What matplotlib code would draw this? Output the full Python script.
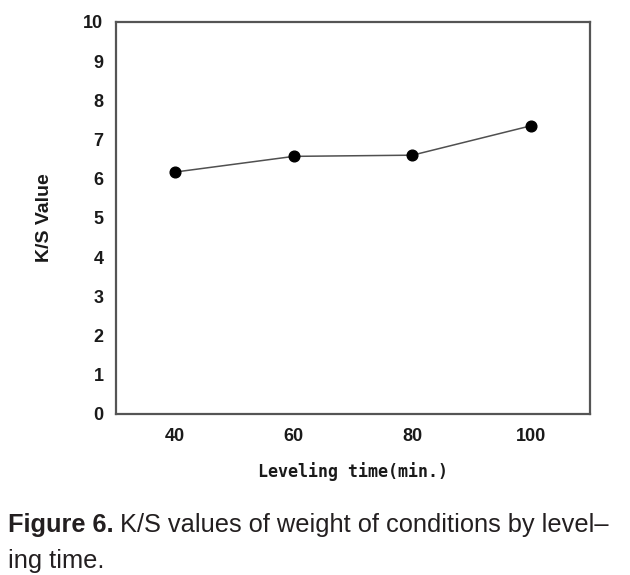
import matplotlib
matplotlib.use("Agg")
import matplotlib.pyplot as plt

# data
times = [40, 60, 80, 100]
ks_values = [6.17, 6.57, 6.60, 7.35]
x_ticks = [40, 60, 80, 100]
y_ticks = list(range(0, 11))

fig = plt.figure(figsize=(6.3, 5.75), dpi=100)
ax = fig.add_axes([0.184, 0.280, 0.753, 0.682])

ax.plot(times, ks_values, color="#505050", linewidth=1.1,
        marker="o", markersize=7.7, markerfacecolor="black", markeredgecolor="black")

ax.set_xlim(30, 110)
ax.set_ylim(0, 10)
ax.set_xticks(x_ticks)
ax.set_yticks(y_ticks)
ax.tick_params(axis="both", length=0)
ax.tick_params(axis="x", pad=10)
ax.tick_params(axis="y", pad=9)
for lab in ax.get_xticklabels() + ax.get_yticklabels():
    lab.set_fontfamily("Liberation Sans")
    lab.set_fontweight("bold")
    lab.set_fontsize(13)
    lab.set_color("#1a1a1a")

for sp in ax.spines.values():
    sp.set_color("#555555")
    sp.set_linewidth(1.6)

ax.set_xlabel("Leveling time(min.)", family="DejaVu Sans Mono", fontweight="bold",
              fontsize=12, color="#1a1a1a", labelpad=12)
ax.set_ylabel("K/S Value", family="Liberation Sans", fontweight="bold",
              fontsize=14, color="#1a1a1a", labelpad=22)

# caption below the chart
cap_color = "#231f20"
t1 = fig.text(8 / 630, 0.0748, "Figure 6.", family="Liberation Sans", fontweight="bold",
              fontsize=18.3, color=cap_color, va="baseline")
fig.canvas.draw()
bb = t1.get_window_extent()
x_after = (bb.x1 + 6) / fig.bbox.width
fig.text(x_after, 0.0748, "K/S values of weight of conditions by level\u2013",
         family="Liberation Sans", fontsize=18.3, color=cap_color, va="baseline")
fig.text(8 / 630, 0.0122, "ing time.", family="Liberation Sans", fontsize=18.3,
         color=cap_color, va="baseline")

fig.savefig("out.png", dpi=100)
